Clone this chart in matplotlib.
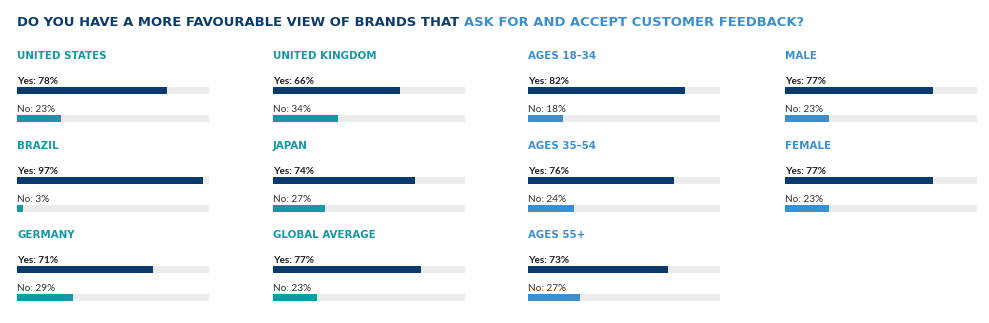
import matplotlib.pyplot as plt

W, H = 989, 323
fig = plt.figure(figsize=(W / 100, H / 100), dpi=100)

navy = '#0b3a6c'
teal = '#1497a7'
sky = '#3c8fcb'
track = '#ececec'
ink = '#1e1e1e'

# survey panels, column by column
panel_names = ['UNITED STATES', 'BRAZIL', 'GERMANY',
               'UNITED KINGDOM', 'JAPAN', 'GLOBAL AVERAGE',
               'AGES 18–34', 'AGES 35–54', 'AGES 55+',
               'MALE', 'FEMALE']
yes_pct = [78, 97, 71, 66, 74, 77, 82, 76, 73, 77, 77]
no_pct = [23, 3, 29, 34, 27, 23, 18, 24, 27, 23, 23]
panel_col = [0, 0, 0, 1, 1, 1, 2, 2, 2, 3, 3]
panel_row = [0, 1, 2, 0, 1, 2, 0, 1, 2, 0, 1]

title_a = 'DO YOU HAVE A MORE FAVOURABLE VIEW OF BRANDS THAT '
title_b = 'ASK FOR AND ACCEPT CUSTOMER FEEDBACK?'

col_x = [17, 273, 528, 785]
row_y = [55, 145, 234]
bar_w = 192

lab_font = 'Lato'

for name, yes, no, c, r in zip(panel_names, yes_pct, no_pct, panel_col, panel_row):
    accent = teal if c < 2 else sky
    x0, y0 = col_x[c], row_y[r]
    top, bot = y0 - 8, y0 + 70
    ax = fig.add_axes([x0 / W, 1 - bot / H, bar_w / W, (bot - top) / H])
    ax.set_xlim(0, 100)
    ax.set_ylim(70, -8)
    ax.axis('off')
    ys = [35.5, 63.5]
    ax.barh(ys, [100, 100], height=6.5, color=track, linewidth=0)
    ax.barh(ys, [yes, no], height=6.5, color=[navy, accent], linewidth=0)
    ax.text(0, 3.8, name, color=accent, fontsize=7.4, fontweight='bold',
            family='DejaVu Sans', va='baseline')
    ax.text(0, 28.6, f'Yes: {yes}%', color=ink, fontsize=7.2, fontweight='bold',
            family=lab_font, va='baseline')
    ax.text(0, 56.6, f'No: {no}%', color='#333333', fontsize=7.2,
            family=lab_font, va='baseline')

t1 = fig.text(17 / W, 1 - 26 / H, title_a, color=navy, fontsize=9.45,
              fontweight='bold', family='DejaVu Sans', va='baseline')
fig.canvas.draw()
ext = t1.get_window_extent()
fig.text(ext.x1 / W, 1 - 26 / H, title_b, color=sky, fontsize=9.45,
         fontweight='bold', family='DejaVu Sans', va='baseline')

fig.savefig('out.png', dpi=100)
